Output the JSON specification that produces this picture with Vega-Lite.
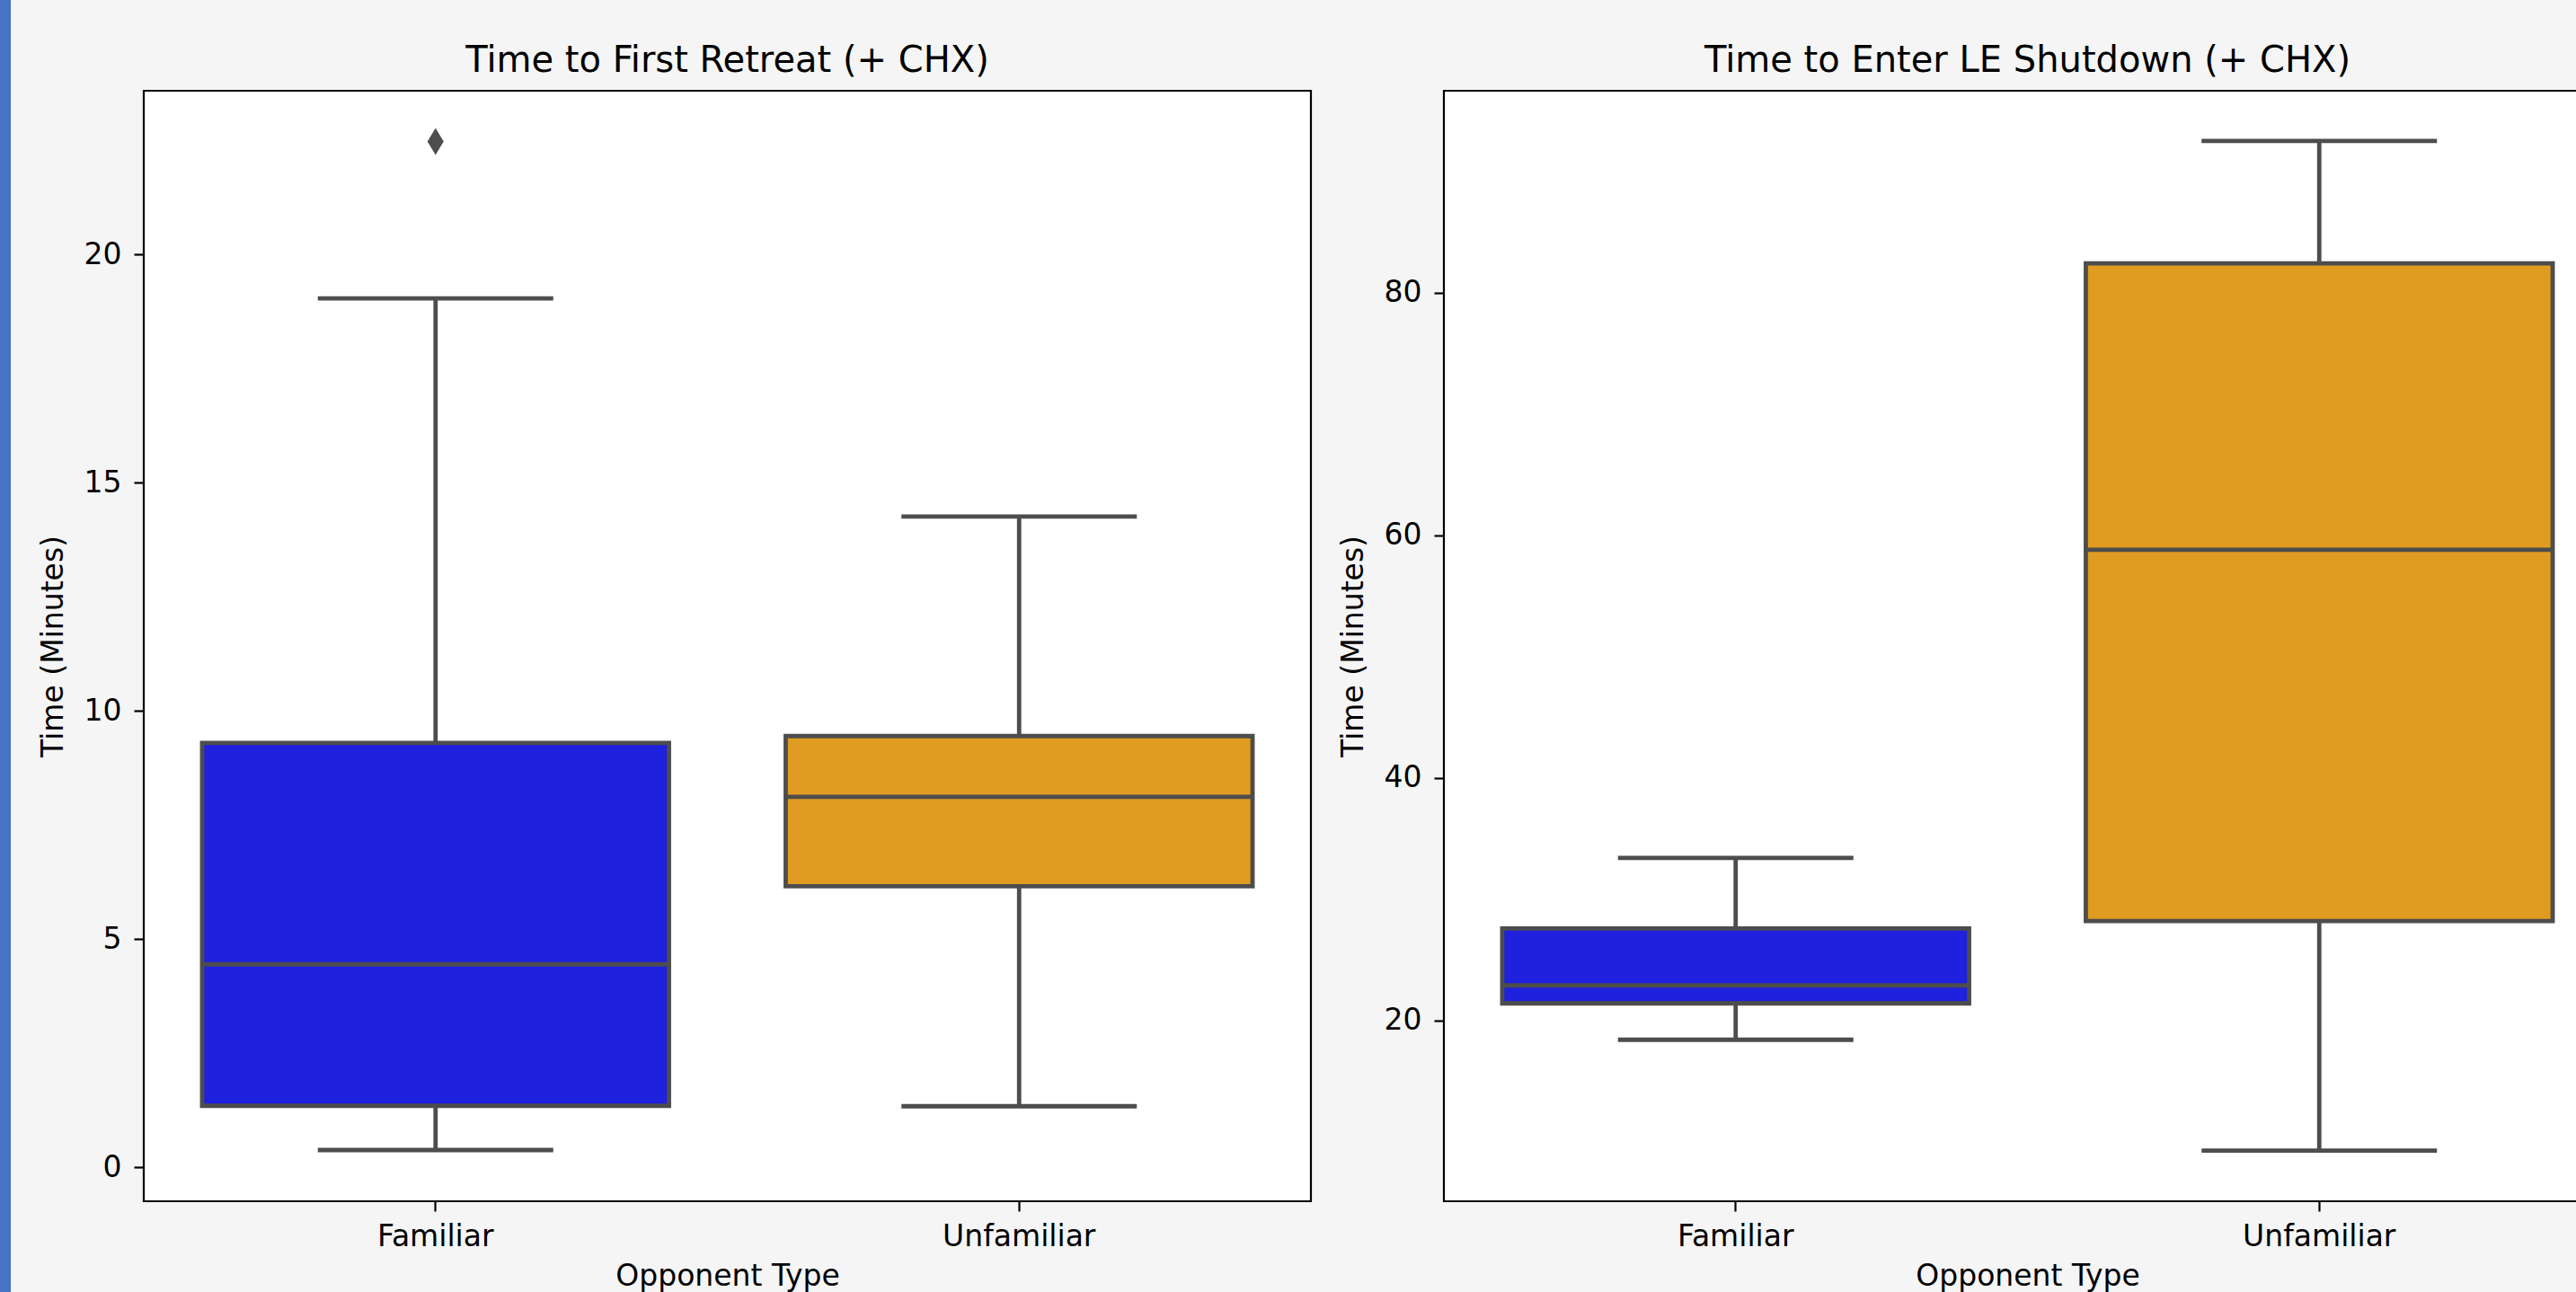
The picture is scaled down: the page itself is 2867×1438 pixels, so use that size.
{
  "$schema": "https://vega.github.io/schema/vega-lite/v6.json",
  "background": "#f5f5f5",
  "padding": 0,
  "datasets": {
    "retreat": [
      {"opp": "Familiar", "lower": 0.38, "q1": 1.35, "median": 4.45, "q3": 9.30, "upper": 19.04},
      {"opp": "Unfamiliar", "lower": 1.34, "q1": 6.16, "median": 8.12, "q3": 9.45, "upper": 14.26}
    ],
    "retreat_out": [
      {"opp": "Familiar", "time": 22.48}
    ],
    "shutdown": [
      {"opp": "Familiar", "lower": 18.42, "q1": 21.42, "median": 22.90, "q3": 27.59, "upper": 33.41},
      {"opp": "Unfamiliar", "lower": 9.28, "q1": 28.2, "median": 58.8, "q3": 82.41, "upper": 92.5}
    ]
  },
  "config": {
    "font": "DejaVu Sans",
    "axis": {"domain": false, "grid": false, "tickColor": "black", "tickWidth": 2.2, "tickSize": 11, "labelFont": "DejaVu Sans", "labelFontSize": 33, "labelColor": "black", "titleFont": "DejaVu Sans", "titleFontSize": 33, "titleFontWeight": "normal", "titleColor": "black"},
    "axisX": {"labelAngle": 0, "labelPadding": 12, "titlePadding": 11},
    "axisY": {"labelPadding": 14, "titlePadding": 17},
    "title": {"font": "DejaVu Sans", "fontSize": 40, "fontWeight": "normal", "color": "black", "baseline": "alphabetic", "offset": 13, "frame": "group", "anchor": "middle"}
  },
  "hconcat": [
    {
      "width": 12,
      "height": 1438,
      "view": {"fill": "#4674c6", "stroke": null},
      "data": {"values": [{"a": 1}]},
      "mark": {"type": "point", "opacity": 0},
      "encoding": {}
    },
    {
      "width": 1299,
      "height": 1236,
      "view": {"fill": "white", "stroke": "black", "strokeWidth": 2.2},
      "title": "Time to First Retreat (+ CHX)",
      "data": {"name": "retreat"},
      "encoding": {
        "x": {"field": "opp", "type": "nominal", "title": "Opponent Type", "scale": {"type": "band", "domain": ["Familiar", "Unfamiliar"], "paddingInner": 0, "paddingOuter": 0}}
      },
      "layer": [
        {
          "mark": {"type": "rule", "color": "#4d4d4d", "strokeWidth": 4.8},
          "encoding": {
            "y": {"field": "lower", "type": "quantitative", "title": "Time (Minutes)", "scale": {"domain": [-0.742, 23.59], "nice": false, "zero": false}, "axis": {"values": [0, 5, 10, 15, 20]}},
            "y2": {"field": "upper"}
          }
        },
        {
          "mark": {"type": "tick", "color": "#4d4d4d", "size": 262, "thickness": 4.8, "opacity": 1},
          "encoding": {"y": {"field": "lower", "type": "quantitative", "title": "Time (Minutes)"}}
        },
        {
          "mark": {"type": "tick", "color": "#4d4d4d", "size": 262, "thickness": 4.8, "opacity": 1},
          "encoding": {"y": {"field": "upper", "type": "quantitative", "title": "Time (Minutes)"}}
        },
        {
          "mark": {"type": "bar", "width": {"band": 0.8}, "stroke": "#4d4d4d", "strokeWidth": 4.8, "opacity": 1},
          "encoding": {
            "y": {"field": "q1", "type": "quantitative", "title": "Time (Minutes)"},
            "y2": {"field": "q3"},
            "color": {"field": "opp", "type": "nominal", "scale": {"domain": ["Familiar", "Unfamiliar"], "range": ["#2020df", "#df9c20"]}, "legend": null}
          }
        },
        {
          "mark": {"type": "tick", "color": "#4d4d4d", "size": 519.6, "thickness": 4.8, "opacity": 1},
          "encoding": {"y": {"field": "median", "type": "quantitative", "title": "Time (Minutes)"}}
        },
        {
          "data": {"name": "retreat_out"},
          "mark": {"type": "point", "shape": "M0,-1L0.6,0L0,1L-0.6,0Z", "size": 900, "filled": true, "color": "#4d4d4d", "opacity": 1, "strokeWidth": 0},
          "encoding": {"y": {"field": "time", "type": "quantitative", "title": "Time (Minutes)"}}
        }
      ]
    },
    {
      "width": 1299,
      "height": 1236,
      "view": {"fill": "white", "stroke": "black", "strokeWidth": 2.2},
      "title": "Time to Enter LE Shutdown (+ CHX)",
      "data": {"name": "shutdown"},
      "encoding": {
        "x": {"field": "opp", "type": "nominal", "title": "Opponent Type", "scale": {"type": "band", "domain": ["Familiar", "Unfamiliar"], "paddingInner": 0, "paddingOuter": 0}}
      },
      "layer": [
        {
          "mark": {"type": "rule", "color": "#4d4d4d", "strokeWidth": 4.8},
          "encoding": {
            "y": {"field": "lower", "type": "quantitative", "title": "Time (Minutes)", "scale": {"domain": [5.11, 96.63], "nice": false, "zero": false}, "axis": {"values": [20, 40, 60, 80]}},
            "y2": {"field": "upper"}
          }
        },
        {
          "mark": {"type": "tick", "color": "#4d4d4d", "size": 262, "thickness": 4.8, "opacity": 1},
          "encoding": {"y": {"field": "lower", "type": "quantitative", "title": "Time (Minutes)"}}
        },
        {
          "mark": {"type": "tick", "color": "#4d4d4d", "size": 262, "thickness": 4.8, "opacity": 1},
          "encoding": {"y": {"field": "upper", "type": "quantitative", "title": "Time (Minutes)"}}
        },
        {
          "mark": {"type": "bar", "width": {"band": 0.8}, "stroke": "#4d4d4d", "strokeWidth": 4.8, "opacity": 1},
          "encoding": {
            "y": {"field": "q1", "type": "quantitative", "title": "Time (Minutes)"},
            "y2": {"field": "q3"},
            "color": {"field": "opp", "type": "nominal", "scale": {"domain": ["Familiar", "Unfamiliar"], "range": ["#2020df", "#df9c20"]}, "legend": null}
          }
        },
        {
          "mark": {"type": "tick", "color": "#4d4d4d", "size": 519.6, "thickness": 4.8, "opacity": 1},
          "encoding": {"y": {"field": "median", "type": "quantitative", "title": "Time (Minutes)"}}
        }
      ]
    }
  ],
  "spacing": 148,
  "bounds": "flush",
  "center": true
}
